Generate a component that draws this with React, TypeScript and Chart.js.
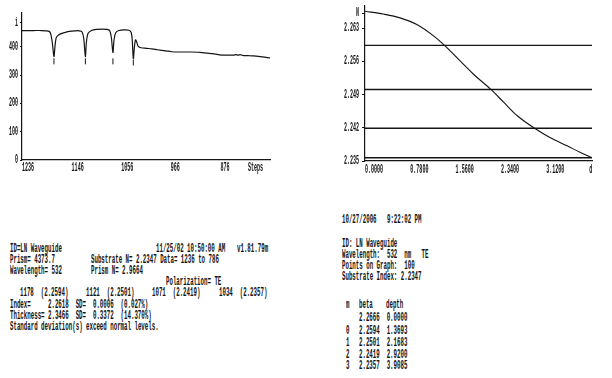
import React, { useEffect, useRef } from "react";
import { Chart, registerables } from "chart.js";

Chart.register(...registerables);

const FONT = "'Liberation Mono', 'DejaVu Sans Mono', monospace";
const INK = "#141414";
const TICK_SQUEEZE = 0.42;
const TEXT_SQUEEZE = 0.48;

// ---------- Left chart: coupling intensity vs. prism steps ----------
const stepValues = [
  1236, 1215, 1200, 1192, 1187, 1184, 1181, 1178, 1176, 1174, 1171, 1166, 1158, 1150, 1140,
  1132, 1127, 1124, 1121, 1119, 1116, 1110, 1100, 1090, 1082, 1077, 1074, 1071, 1069, 1066,
  1060, 1050, 1042, 1038, 1036, 1034, 1032, 1030, 1028, 1025, 1020, 1010, 1000, 990, 975,
  965, 950, 930, 913, 900, 890, 880, 870, 860, 852, 848, 844, 840, 836, 825, 816, 800, 786,
];
const intensityValues = [
  458, 458, 458, 457, 455, 447, 415, 366, 405, 432, 440, 446, 451, 455, 457,
  457, 453, 430, 366, 420, 448, 458, 462, 463, 462, 458, 435, 380, 425, 450,
  458, 460, 459, 452, 425, 359, 400, 425, 418, 402, 397, 395, 393, 390, 386,
  383, 382, 382, 381, 378, 376, 373, 371, 371, 371, 373, 371, 373, 370, 369, 368, 365, 361,
];
const dipSteps = [1178, 1121, 1071, 1034];
const dipMarkerLevel = [349, 349, 349, 345];
const stepTicks = [1236, 1146, 1056, 966, 876, 826];
const stepTickLabels = ["1236", "1146", "1056", "966", "876", "Steps"];
const intensityTicks = [0, 100, 200, 300, 400, 485];
const intensityTickLabels = ["0", "100", "200", "300", "400", "i"];

// ---------- Right chart: index profile N vs depth d ----------
const depthValues = [0, 0.316, 0.604, 0.892, 1.18, 1.3693, 1.582, 1.869, 2.1683, 2.387, 2.617, 2.92, 3.192, 3.48, 3.71, 3.9085];
const indexValues = [2.2666, 2.266, 2.2652, 2.2638, 2.2614, 2.2594, 2.2568, 2.2533, 2.2501, 2.2474, 2.2446, 2.2419, 2.2399, 2.2382, 2.2368, 2.2357];
const modeBetas = [2.2594, 2.2501, 2.2419, 2.2357];
const depthTicks = [0, 0.78, 1.56, 2.34, 3.12, 3.86];
const depthTickLabels = ["0.0000", "0.7800", "1.5600", "2.3400", "3.1200", "d"];
const indexTicks = [2.235, 2.242, 2.249, 2.256, 2.263, 2.2662];
const indexTickLabels = ["2.235", "2.242", "2.249", "2.256", "2.263", "N"];

// ---------- Printed text ----------
type TextLine = [number, number, string];
const leftText: TextLine[] = [
  [10, 249, "ID=LN Waveguide"],
  [156, 249, "11/25/02 10:50:00 AM"],
  [237, 249, "v1.81.79m"],
  [10, 260, "Prism= 4373.7"],
  [91, 260, "Substrate N= 2.2347 Data= 1236 to 786"],
  [10, 271, "Wavelength= 532"],
  [91, 271, "Prism N= 2.9664"],
  [166, 282, "Polarization= TE"],
  [20, 293, "1178  (2.2594)"],
  [86, 293, "1121  (2.2501)"],
  [152, 293, "1071  (2.2419)"],
  [219, 293, "1034  (2.2357)"],
  [10, 305, "Index="],
  [48, 305, "2.2618  SD=  0.0006  (0.027%)"],
  [10, 316, "Thickness="],
  [48, 316, "2.3466  SD=  0.3372  (14.370%)"],
  [10, 327, "Standard deviation(s) exceed normal levels."],
];
const rightText: TextLine[] = [
  [342, 220, "10/27/2006   9:22:02 PM"],
  [342, 244, "ID: LN Waveguide"],
  [342, 255, "Wavelength:  532  nm   TE"],
  [342, 266, "Points on Graph:  100"],
  [342, 277, "Substrate Index: 2.2347"],
  [346, 305, "m"],
  [359, 305, "beta"],
  [386, 305, "depth"],
  [359, 318, "2.2666  0.0000"],
  [346, 331, "0"],
  [359, 331, "2.2594  1.3693"],
  [346, 343, "1"],
  [359, 343, "2.2501  2.1683"],
  [346, 355, "2"],
  [359, 355, "2.2419  2.9200"],
  [346, 366, "3"],
  [359, 366, "2.2357  3.9085"],
];

const tickFont = { family: FONT, size: 12, weight: "bold" as const };

function squeezeText(canvas: HTMLCanvasElement) {
  const ctx = canvas.getContext("2d") as any;
  if (!ctx || ctx.__squeezed) return;
  const orig = ctx.fillText;
  ctx.fillText = function (t: string, x: number, y: number) {
    const w = this.measureText(t).width;
    return orig.call(this, t, x, y, Math.max(1, w * TICK_SQUEEZE));
  };
  ctx.__squeezed = true;
}

function makeAxisFit(width?: number, height?: number) {
  return (s: any) => {
    if (width !== undefined) s.width = width;
    if (height !== undefined) s.height = height;
    s.paddingLeft = 0;
    s.paddingRight = 0;
    s.paddingTop = 0;
    s.paddingBottom = 0;
  };
}

function labelFor(values: number[], labels: string[]) {
  return (v: any) => {
    const i = values.findIndex((t) => Math.abs(t - Number(v)) < 1e-6);
    return i >= 0 ? labels[i] : "";
  };
}

function LeftChart() {
  const ref = useRef<HTMLCanvasElement | null>(null);
  useEffect(() => {
    if (!ref.current) return;
    squeezeText(ref.current);
    const chart = new Chart(ref.current, {
      type: "line",
      data: {
        datasets: [
          {
            data: stepValues.map((x, i) => ({ x, y: intensityValues[i] })),
            borderColor: INK,
            borderWidth: 1.2,
            pointRadius: 0,
            tension: 0.3,
            fill: false,
          },
          {
            type: "scatter",
            data: dipSteps.map((x, i) => ({ x, y: dipMarkerLevel[i] })),
            pointStyle: "line",
            rotation: 90,
            pointRadius: 3,
            borderColor: INK,
            borderWidth: 1,
          } as any,
        ],
      },
      options: {
        animation: false,
        responsive: false,
        events: [],
        layout: { padding: { left: 0, top: 13, right: 30, bottom: 0 } },
        plugins: { legend: { display: false }, tooltip: { enabled: false } },
        scales: {
          x: {
            type: "linear",
            reverse: true,
            min: 786,
            max: 1236,
            afterBuildTicks: (s: any) => {
              s.ticks = stepTicks.map((value) => ({ value }));
            },
            afterFit: makeAxisFit(undefined, 25),
            grid: { display: false, drawTicks: false },
            border: { display: true, color: INK, width: 1.2 },
            ticks: {
              autoSkip: false,
              maxRotation: 0,
              minRotation: 0,
              align: "start",
              padding: 1,
              color: INK,
              font: tickFont,
              callback: labelFor(stepTicks, stepTickLabels),
            },
          },
          y: {
            type: "linear",
            min: 0,
            max: 520,
            afterBuildTicks: (s: any) => {
              s.ticks = intensityTicks.map((value) => ({ value }));
            },
            afterFit: makeAxisFit(22, undefined),
            grid: { display: true, drawOnChartArea: false, drawTicks: true, tickLength: 2, color: INK },
            border: { display: true, color: INK, width: 1.2 },
            ticks: {
              autoSkip: false,
              padding: 2,
              color: INK,
              font: tickFont,
              callback: labelFor(intensityTicks, intensityTickLabels),
            },
          },
        },
      },
    });
    return () => chart.destroy();
  }, []);
  return <canvas ref={ref} width={300} height={185} style={{ position: "absolute", left: 0, top: 0, width: 300, height: 185 }} />;
}

function RightChart() {
  const ref = useRef<HTMLCanvasElement | null>(null);
  useEffect(() => {
    if (!ref.current) return;
    squeezeText(ref.current);
    const lineSets = modeBetas.map((b) => ({
      data: [
        { x: depthValues[0], y: b },
        { x: depthValues[depthValues.length - 1], y: b },
      ],
      borderColor: INK,
      borderWidth: 1.4,
      pointRadius: 0,
      fill: false,
    }));
    const chart = new Chart(ref.current, {
      type: "line",
      data: {
        datasets: [
          {
            data: depthValues.map((x, i) => ({ x, y: indexValues[i] })),
            borderColor: INK,
            borderWidth: 1.1,
            pointRadius: 0,
            cubicInterpolationMode: "monotone",
            fill: false,
          },
          ...lineSets,
        ] as any,
      },
      options: {
        animation: false,
        responsive: false,
        events: [],
        layout: { padding: { left: 0, top: 6, right: 20, bottom: 0 } },
        plugins: { legend: { display: false }, tooltip: { enabled: false } },
        scales: {
          x: {
            type: "linear",
            min: 0,
            max: 3.9085,
            afterBuildTicks: (s: any) => {
              s.ticks = depthTicks.map((value) => ({ value }));
            },
            afterFit: makeAxisFit(undefined, 24),
            grid: { display: false, drawTicks: false },
            border: { display: true, color: INK, width: 1.2 },
            ticks: {
              autoSkip: false,
              maxRotation: 0,
              minRotation: 0,
              align: "start",
              padding: 2,
              color: INK,
              font: tickFont,
              callback: labelFor(depthTicks, depthTickLabels),
            },
          },
          y: {
            type: "linear",
            min: 2.235,
            max: 2.2677,
            afterBuildTicks: (s: any) => {
              s.ticks = indexTicks.map((value) => ({ value }));
            },
            afterFit: makeAxisFit(65, undefined),
            grid: { display: true, drawOnChartArea: false, drawTicks: true, tickLength: 3, color: INK },
            border: { display: true, color: INK, width: 1.2 },
            ticks: {
              autoSkip: false,
              padding: 3,
              color: INK,
              font: tickFont,
              callback: labelFor(indexTicks, indexTickLabels),
            },
          },
        },
      },
    });
    return () => chart.destroy();
  }, []);
  return <canvas ref={ref} width={312} height={185} style={{ position: "absolute", left: 300, top: 0, width: 312, height: 185 }} />;
}

function TextBlock({ lines }: { lines: TextLine[] }) {
  return (
    <>
      {lines.map(([x, y, t], i) => (
        <div
          key={i}
          style={{
            position: "absolute",
            left: x,
            top: y - 7,
            height: 14,
            lineHeight: "14px",
            fontFamily: FONT,
            fontWeight: "bold",
            fontSize: 12,
            color: INK,
            whiteSpace: "pre",
            transform: `scaleX(${TEXT_SQUEEZE})`,
            transformOrigin: "0 50%",
          }}
        >
          {t}
        </div>
      ))}
    </>
  );
}

export default function App() {
  useEffect(() => {
    document.body.style.margin = "0";
    document.body.style.background = "#fff";
  }, []);
  return (
    <div style={{ position: "fixed", left: 0, top: 0, width: 612, height: 378, background: "#fff", overflow: "hidden" }}>
      <LeftChart />
      <RightChart />
      <TextBlock lines={leftText} />
      <TextBlock lines={rightText} />
    </div>
  );
}
